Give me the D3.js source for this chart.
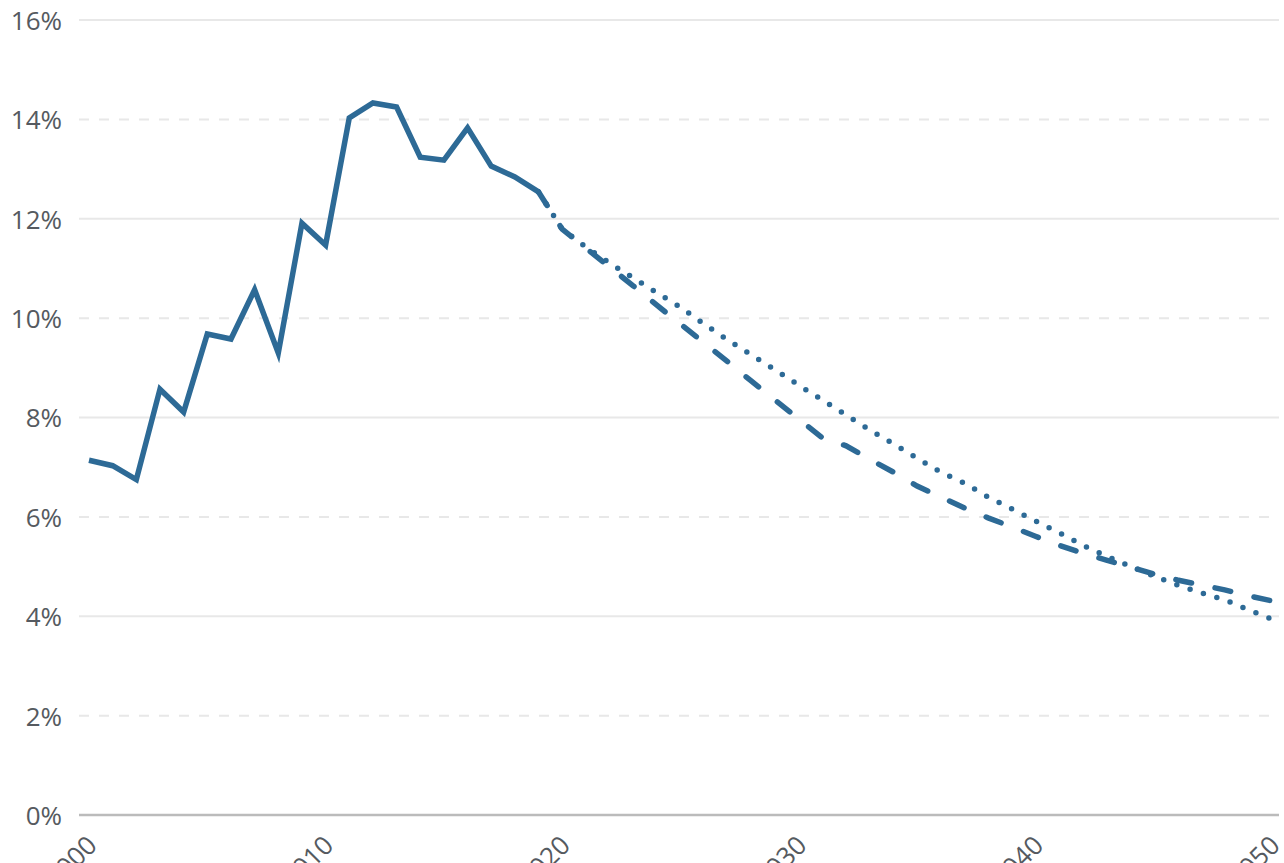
<!DOCTYPE html>
<html>
<head>
<meta charset="utf-8">
<script src="https://cdn.jsdelivr.net/npm/d3@7"></script>
<style>
  html, body { margin: 0; padding: 0; background: #fff; overflow: hidden; }
  svg { display: block; }
  text { font-family: "Open Sans", sans-serif; }
</style>
</head>
<body>
<svg id="chart" width="1284" height="863"></svg>
<script>
// ---- data ----
const histYears = d3.range(2000, 2020);
const histValues = [7.14, 7.03, 6.75, 8.57, 8.11, 9.68, 9.58, 10.57, 9.30, 11.91,
                    11.47, 14.03, 14.33, 14.25, 13.24, 13.18, 13.83, 13.06, 12.84, 12.54];

const projYears = d3.range(2019, 2051);
const projDashed = [12.54, 11.79, 11.41, 11.03, 10.65, 10.26, 9.88, 9.50, 9.12, 8.73,
                    8.35, 7.97, 7.59, 7.43, 7.16, 6.90, 6.62, 6.40, 6.18, 5.98,
                    5.80, 5.61, 5.43, 5.27, 5.13, 4.99, 4.85, 4.73, 4.63, 4.53,
                    4.41, 4.31];
const projDotted = [12.54, 11.79, 11.43, 11.11, 10.81, 10.51, 10.22, 9.88, 9.56, 9.26,
                    8.96, 8.65, 8.35, 8.05, 7.75, 7.47, 7.18, 6.90, 6.68, 6.40,
                    6.16, 5.92, 5.68, 5.43, 5.21, 5.01, 4.81, 4.63, 4.47, 4.33,
                    4.13, 3.94];

const yTicks = [0, 2, 4, 6, 8, 10, 12, 14, 16];
const xTicks = [2000, 2010, 2020, 2030, 2040, 2050];

// ---- layout ----
const svg = d3.select("#chart");
const x = d3.scaleLinear().domain([2000, 2050]).range([89, 1272]);
const y = d3.scaleLinear().domain([0, 16]).range([815, 20]);
const gridLeft = 79, gridRight = 1279;
const color = "#2d6a96";

// gridlines
svg.append("g").selectAll("line")
  .data(yTicks.filter(d => d !== 0))
  .join("line")
  .attr("x1", gridLeft).attr("x2", gridRight)
  .attr("y1", d => y(d)).attr("y2", d => y(d))
  .attr("stroke", "#e8e8e8")
  .attr("stroke-width", 2)
  .attr("stroke-dasharray", d => (d % 4 === 0 ? null : "10 10"));

// y axis labels
const yAxis = d3.axisLeft(y).tickValues(yTicks).tickSize(0).tickPadding(0)
  .tickFormat(d => d + "%");
const gy = svg.append("g").attr("transform", "translate(62,0)").call(yAxis);
gy.select(".domain").remove();
gy.selectAll("text")
  .attr("font-family", "'Open Sans', sans-serif")
  .attr("font-size", 26)
  .attr("fill", "#555a60")
  .attr("dy", "0.36em");

// baseline
svg.append("line")
  .attr("x1", gridLeft).attr("x2", gridRight)
  .attr("y1", y(0)).attr("y2", y(0))
  .attr("stroke", "#bbbbbb").attr("stroke-width", 2.5);

// x axis labels
const xAxis = d3.axisBottom(x).tickValues(xTicks).tickSize(0).tickPadding(0)
  .tickFormat(d3.format("d"));
const gx = svg.append("g").attr("transform", "translate(0," + y(0) + ")").call(xAxis);
gx.select(".domain").remove();
gx.selectAll("text")
  .attr("font-family", "'Open Sans', sans-serif")
  .attr("font-size", 26)
  .attr("fill", "#555a60")
  .attr("text-anchor", "end")
  .attr("x", 9).attr("y", 32).attr("dy", 0)
  .attr("transform", "rotate(-45, 9, 32)");

// lines
const line = d3.line().x(d => x(d[0])).y(d => y(d[1]));

svg.append("path")
  .datum(projYears.map((yr, i) => [yr, projDashed[i]]))
  .attr("d", line)
  .attr("fill", "none")
  .attr("stroke", color)
  .attr("stroke-width", 5.5)
  .attr("stroke-linecap", "round")
  .attr("stroke-dasharray", "16 24");

svg.append("path")
  .datum(projYears.map((yr, i) => [yr, projDotted[i]]))
  .attr("d", line)
  .attr("fill", "none")
  .attr("stroke", color)
  .attr("stroke-width", 5.5)
  .attr("stroke-linecap", "round")
  .attr("stroke-dasharray", "0 14");

svg.append("path")
  .datum(histYears.map((yr, i) => [yr, histValues[i]]))
  .attr("d", line)
  .attr("fill", "none")
  .attr("stroke", color)
  .attr("stroke-width", 5.5);
</script>
</body>
</html>
